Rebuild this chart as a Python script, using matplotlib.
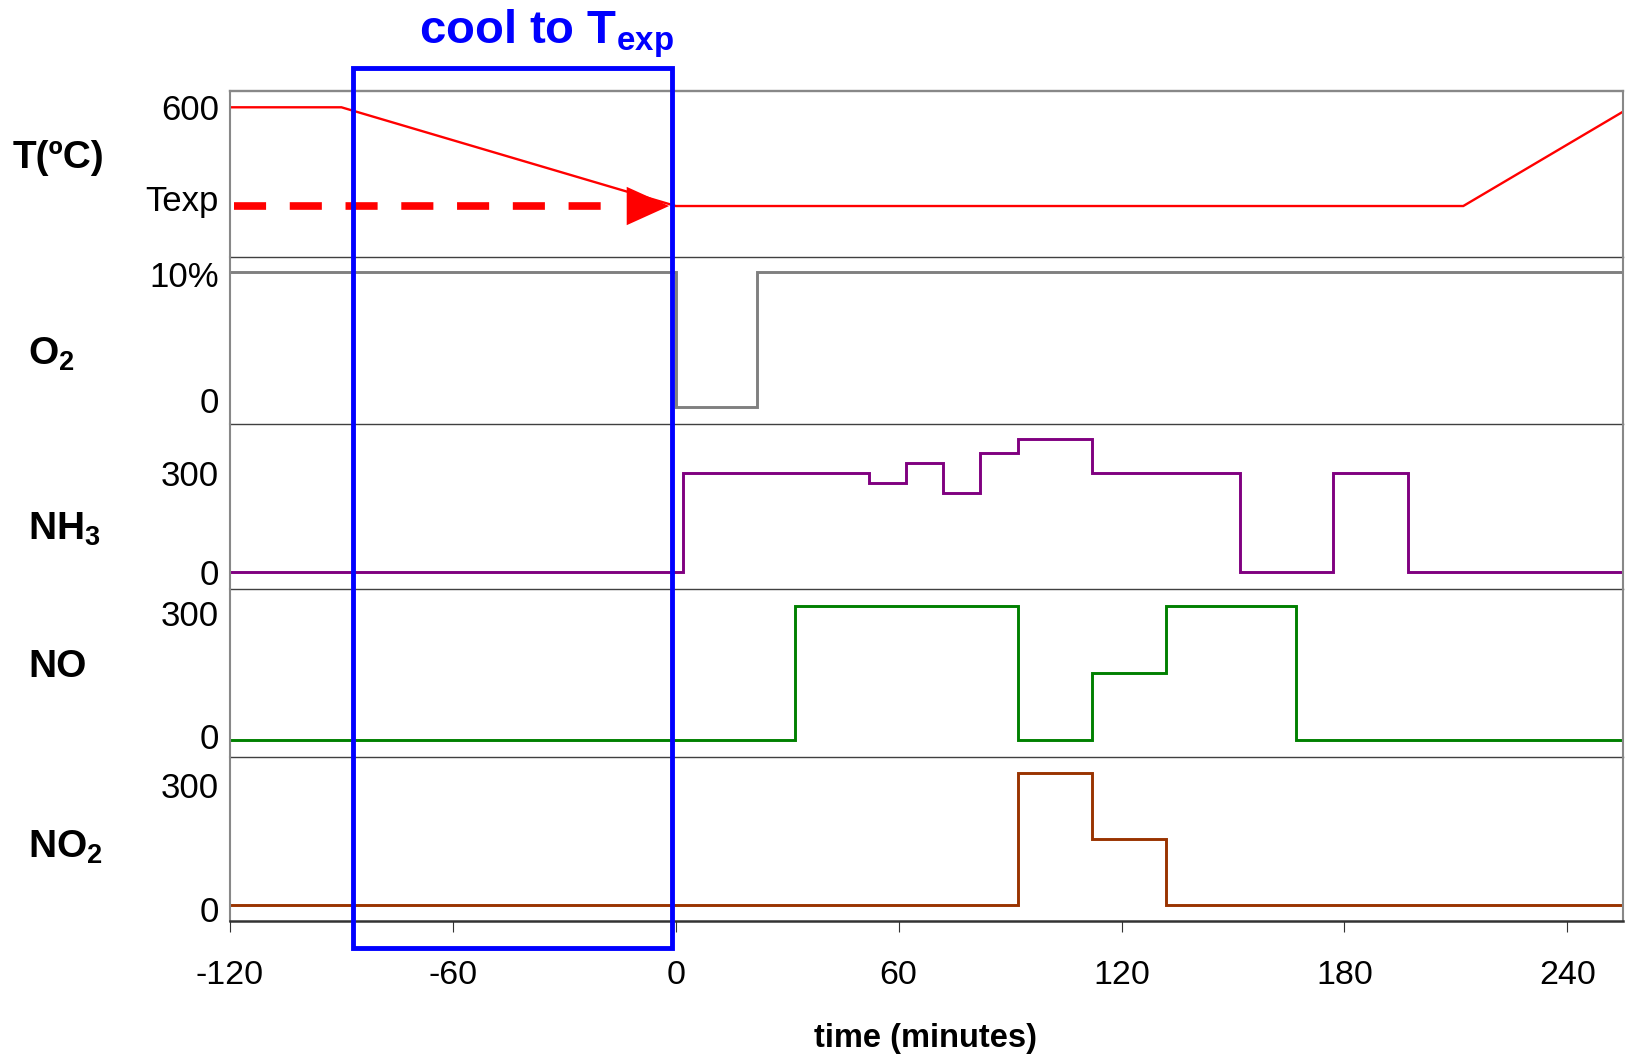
import matplotlib
matplotlib.use('Agg')
import matplotlib.pyplot as plt
from matplotlib.patches import Rectangle
from matplotlib.transforms import blended_transform_factory, ScaledTranslation

plt.rcParams['font.family'] = ['Liberation Sans', 'DejaVu Sans']

# temperature programme (deg C), Texp plotted at 300
temp_time = [-120, -90, 0, 212, 257]
temp_val = [600, 600, 300, 300, 600]
t_exp = 300

# gas feeds: O2 in %, the others in ppm (step changes)
o2_time = [-120, 0, 22, 255]
o2_val = [10, 0, 10, 10]

nh3_time = [-120, 2, 52, 62, 72, 82, 92, 112, 152, 177, 197, 255]
nh3_val = [0, 300, 270, 330, 240, 360, 400, 300, 0, 300, 0, 0]

no_time = [-120, 32, 92, 112, 132, 167, 255]
no_val = [0, 300, 0, 150, 300, 0, 0]

no2_time = [-120, 92, 112, 132, 255]
no2_val = [0, 300, 150, 0, 0]

x_ticks = [-120, -60, 0, 60, 120, 180, 240]

W, H = 1627, 1054
fig = plt.figure(figsize=(W / 100, H / 100), dpi=100)

# panel edges in pixels from the top
edges = [91, 256.7, 423.5, 589, 756.7, 921]
left, right = 230, 1623

panels = [
    ('T(ºC)', temp_time, temp_val, '#ff0000', 1.7, (146, 649.5), [600, t_exp], ['600', 'Texp'], 'default'),
    ('O$_\\mathregular{2}$', o2_time, o2_val, '#808080', 2.1, (-1.25, 11.14), [10, 0], ['10%', '0'], 'steps-post'),
    ('NH$_\\mathregular{3}$', nh3_time, nh3_val, '#800080', 2.1, (-50.3, 448), [300, 0], ['300', '0'], 'steps-post'),
    ('NO', no_time, no_val, '#008000', 2.1, (-36.5, 337.2), [300, 0], ['300', '0'], 'steps-post'),
    ('NO$_\\mathregular{2}$', no2_time, no2_val, '#993300', 2.1, (-36.4, 337.8), [300, 0], ['300', '0'], 'steps-post'),
]
label_pos = [(13, 158), (28, 354), (28, 529), (28, 667), (28, 847)]
# vertical nudges (px, positive = up) of the tick labels in each panel
label_shift = [(0, 8), (-2, 7), (0, 0), (-7, 4), (-12, -4)]

axes = []
for i, (name, tt, vv, col, lw, ylim, yt, ytl, ds) in enumerate(panels):
    top, bot = edges[i], edges[i + 1]
    ax = fig.add_axes([left / W, 1 - bot / H, (right - left) / W, (bot - top) / H],
                      sharex=axes[0] if axes else None)
    ax.set_facecolor('none')
    ax.plot(tt, vv, color=col, lw=lw, drawstyle=ds, solid_joinstyle='miter')
    ax.set_xlim(-120, 255)
    ax.set_ylim(*ylim)
    ax.set_yticks(yt)
    ax.set_yticklabels(ytl)
    ax.tick_params(axis='y', length=0, pad=8, labelsize=25)
    for lbl, dy in zip(ax.get_yticklabels(), label_shift[i]):
        lbl.set_transform(lbl.get_transform() + ScaledTranslation(0, dy / 100, fig.dpi_scale_trans))
    for s in ['left', 'right']:
        ax.spines[s].set_color('#888888')
        ax.spines[s].set_linewidth(1.5)
    if i == 0:
        ax.spines['top'].set_color('#888888')
        ax.spines['top'].set_linewidth(1.7)
    else:
        ax.spines['top'].set_visible(False)
    if i < len(panels) - 1:
        ax.spines['bottom'].set_color('#404040')
        ax.spines['bottom'].set_linewidth(1.0)
        ax.tick_params(axis='x', bottom=False, labelbottom=False)
    else:
        ax.spines['bottom'].set_color('#333333')
        ax.spines['bottom'].set_linewidth(1.8)
        ax.set_xticks(x_ticks)
        ax.set_xticklabels([str(v) for v in x_ticks])
        ax.tick_params(axis='x', direction='out', length=8, width=0.8,
                       color='#333333', pad=20, labelsize=24.5)
    lx, ly = label_pos[i]
    fig.text(lx / W, 1 - ly / H, name, fontsize=28, fontweight='bold',
             ha='left', va='center')
    axes.append(ax)

# dashed arrow marking the target temperature
ax0 = axes[0]
ax0.plot([-119, -19.8], [t_exp, t_exp], color='#ff0000', lw=5.5,
         linestyle=(0, (4.2, 3.1)), dash_capstyle='butt', zorder=3)
ax0.annotate('', xy=(-1.8, t_exp), xytext=(-13.2, t_exp),
             arrowprops=dict(arrowstyle='-|>,head_length=3.05,head_width=1.38',
                             mutation_scale=10, fc='#ff0000', ec='none', lw=0,
                             shrinkA=0, shrinkB=0),
             zorder=4)

# cooling window box spanning all panels
trans = blended_transform_factory(axes[-1].transData, fig.transFigure)
box_top, box_bot = 1 - 68.3 / H, 1 - 947.7 / H
fig.add_artist(Rectangle((-87, box_bot), 86, box_top - box_bot, transform=trans,
                         fill=False, ec='#0000ff', lw=3.5, clip_on=False, zorder=10))
fig.text(546 / W, 1 - 44 / H, 'cool to T$_\\mathregular{exp}$', color='#0000ff',
         fontsize=34, fontweight='bold', ha='center', va='baseline')

fig.text(926 / W, 1 - 1038 / H, 'time (minutes)', fontsize=23.5, fontweight='bold',
         ha='center', va='center')

fig.savefig('out.png', dpi=100)
